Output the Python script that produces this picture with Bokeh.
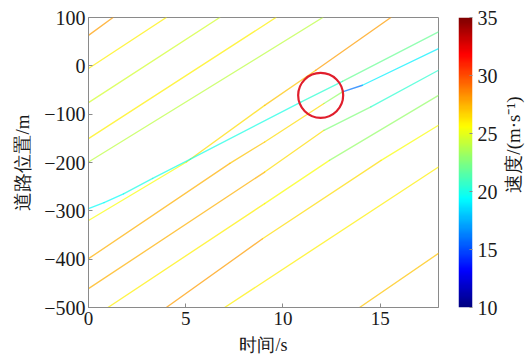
import numpy as np
from bokeh.plotting import figure
from bokeh.models import Range1d, ColumnDataSource, LinearColorMapper, FixedTicker
from bokeh.layouts import row, column
from bokeh.core.properties import value
from bokeh.embed import file_html
from bokeh.resources import INLINE

# ---------------- data ----------------
x_ticks = [0, 5, 10, 15]
x_tick_labels = ["0", "5", "10", "15"]
y_ticks = [-500, -400, -300, -200, -100, 0, 100]
y_tick_labels = ["−500", "−400", "−300", "−200", "−100", "0", "100"]
cbar_ticks = [10, 15, 20, 25, 30, 35]
cbar_tick_labels = ["10", "15", "20", "25", "30", "35"]
speed_low, speed_high = 10, 35
x_title = "时间/s"
y_title = "道路位置/m"
cbar_title = "速度/(m·s⁻¹)"

# trajectories: time (s), road position (m), speed on each segment (m/s)
L1_t = [0.0, 1.26];  L1_x = [63, 100];   L1_v = [28]
L2_t = [0.0, 4.0];   L2_x = [-5.6, 100]; L2_v = [26]
L3_t = [0.0, 6.75];  L3_x = [-76, 100];  L3_v = [24.5]
L4_t = [0.0, 9.64];  L4_x = [-150.6, 100]; L4_v = [26]
L5_t = [0.0, 12.05]; L5_x = [-199, 100]; L5_v = [24]
A_t = [0.0, 5.04, 9.06, 11.69, 15.55]
A_x = [-320, -199, -81.8, -9.2, 100]
A_v = [25.5, 26.5, 27, 28]
B_t = [0.0, 7.27, 9.06, 12.11, 13.06, 14.09, 18.0]
B_x = [-399, -201.8, -157.6, -78, -54, -40.2, 35.8]
B_v = [27.5, 27, 26.5, 23, 16, 19]
C_t = [0.0, 9.06, 12.11, 14.52, 18.0]
C_x = [-461, -219.8, -133.4, -85, -9.2]
C_v = [27.5, 26.5, 22.5, 20.5]
D_t = [1.0, 9.06, 12.39, 18.0]
D_x = [-500, -285, -195.6, -61]
D_v = [26, 25.5, 23]
E_t = [4.0, 8.95, 15.05, 18.0]
E_x = [-500, -357.8, -195.6, -123]
E_v = [28, 26.5, 25.5]
F_t = [7.0, 18.0];   F_x = [-500, -209.4]; F_v = [26]
G_t = [13.94, 18.0]; G_x = [-500, -388];   G_v = [27]
Cy_t = [0.0, 0.8, 1.8, 3.3, 5.24, 10.92, 13.06, 18.0]
Cy_x = [-295.6, -283, -265, -233, -193, -75, -32, 70.2]
Cy_v = [19.5, 19.5, 20, 20, 20, 20.5, 22]

event_t = [11.94]
event_x = [-61]

vehicles = [(L1_t, L1_x, L1_v), (L2_t, L2_x, L2_v), (L3_t, L3_x, L3_v),
            (L4_t, L4_x, L4_v), (L5_t, L5_x, L5_v), (F_t, F_x, F_v),
            (G_t, G_x, G_v), (E_t, E_x, E_v), (D_t, D_x, D_v),
            (C_t, C_x, C_v), (B_t, B_x, B_v), (A_t, A_x, A_v),
            (Cy_t, Cy_x, Cy_v)]

# ---------------- style ----------------
FONT = "Liberation Serif"
TXT = "#1a1a1a"
GRAY = "#8a8a8a"
W_MAIN = 440
H_MAIN = 332
H_TOTAL = 356


def jet_palette(n=256):
    cols = []
    for k in range(n):
        f = k / (n - 1)
        r = min(max(1.5 - abs(4 * f - 3), 0), 1)
        g = min(max(1.5 - abs(4 * f - 2), 0), 1)
        b = min(max(1.5 - abs(4 * f - 1), 0), 1)
        cols.append("#%02x%02x%02x" % (int(r * 255), int(g * 255), int(b * 255)))
    return cols


mapper = LinearColorMapper(palette=jet_palette(), low=speed_low, high=speed_high)

seg = dict(x0=[], y0=[], x1=[], y1=[], speed=[])
for t, x, v in vehicles:
    for i in range(len(t) - 1):
        seg["x0"].append(t[i]); seg["y0"].append(x[i])
        seg["x1"].append(t[i + 1]); seg["y1"].append(x[i + 1])
        seg["speed"].append(v[i])
src = ColumnDataSource(seg)

p = figure(width=W_MAIN, height=H_MAIN, x_range=Range1d(0, 18), y_range=Range1d(-500, 100),
           toolbar_location=None, output_backend="svg",
           min_border_left=88, min_border_right=2, min_border_top=17,
           min_border_bottom=H_MAIN - 307,
           background_fill_color="white", border_fill_color="white")
p.grid.visible = False
p.outline_line_color = GRAY
p.outline_line_width = 1

p.segment(x0="x0", y0="y0", x1="x1", y1="y1", source=src,
          line_color={"field": "speed", "transform": mapper},
          line_width=1.35, line_alpha=0.72, line_cap="round")

p.scatter(x=event_t, y=event_x, marker="circle", size=45, fill_color=None,
          line_color="#e01e2c", line_width=2.2)

for ax in (p.xaxis[0], p.yaxis[0]):
    ax.axis_line_color = GRAY
    ax.major_tick_line_color = GRAY
    ax.major_tick_in = 4
    ax.major_tick_out = 0
    ax.minor_tick_line_color = None
    ax.major_label_text_font = FONT
    ax.major_label_text_color = TXT
    ax.axis_label_text_font = FONT
    ax.axis_label_text_font_size = "19px"
    ax.axis_label_text_font_style = "normal"
    ax.axis_label_text_color = TXT

p.xaxis.ticker = FixedTicker(ticks=x_ticks)
p.xaxis.major_label_overrides = dict(zip(x_ticks, x_tick_labels))
p.xaxis.major_label_text_font_size = "19px"
p.xaxis.major_label_standoff = 4
p.yaxis.ticker = FixedTicker(ticks=y_ticks)
p.yaxis.major_label_overrides = dict(zip(y_ticks, y_tick_labels))
p.yaxis.major_label_text_font_size = "20px"
p.yaxis.major_label_standoff = 3
p.yaxis.axis_label = y_title
p.yaxis.axis_label_standoff = 8

# x-axis title strip below the main plot
xt = figure(width=W_MAIN, height=H_TOTAL - H_MAIN, x_range=Range1d(0, 18),
            y_range=Range1d(0, H_TOTAL - H_MAIN),
            x_axis_type=None, y_axis_type=None, toolbar_location=None, output_backend="svg",
            min_border_left=88, min_border_right=2, min_border_top=0, min_border_bottom=0,
            background_fill_color="white", border_fill_color="white")
xt.outline_line_color = None
xt.grid.visible = False
xt.text(x=[9], y=[H_TOTAL - 344], text=[x_title], text_align="center", text_baseline="middle",
        text_font=value(FONT), text_font_size="18px", text_color=TXT)

# ---------------- colour bar ----------------
cb = figure(width=60, height=H_TOTAL, x_range=Range1d(0, 1),
            y_range=Range1d(speed_low, speed_high), y_axis_location="right",
            toolbar_location=None, output_backend="svg",
            min_border_left=18, min_border_right=27, min_border_top=17,
            min_border_bottom=H_TOTAL - 307,
            background_fill_color="white", border_fill_color="white")
cb.grid.visible = False
cb.xaxis.visible = False
cb.outline_line_color = None
cb.image(image=[np.linspace(speed_low, speed_high, 256).reshape(256, 1)],
         x=0, y=speed_low, dw=1, dh=speed_high - speed_low, color_mapper=mapper)
ya = cb.yaxis[0]
ya.ticker = FixedTicker(ticks=cbar_ticks)
ya.major_label_overrides = dict(zip(cbar_ticks, cbar_tick_labels))
ya.axis_line_color = None
ya.major_tick_line_color = GRAY
ya.major_tick_in = 3
ya.major_tick_out = 0
ya.minor_tick_line_color = None
ya.major_label_text_font = FONT
ya.major_label_text_font_size = "20px"
ya.major_label_text_color = TXT
ya.major_label_standoff = 5

# colour-bar title strip
tf = figure(width=32, height=H_TOTAL, x_range=Range1d(0, 32), y_range=Range1d(0, H_TOTAL),
            x_axis_type=None, y_axis_type=None, toolbar_location=None, output_backend="svg",
            min_border_left=0, min_border_right=0, min_border_top=0, min_border_bottom=0,
            background_fill_color="white", border_fill_color="white")
tf.outline_line_color = None
tf.grid.visible = False
tf.text(x=[13], y=[H_TOTAL - 156], text=[cbar_title], angle=np.pi / 2,
        text_align="center", text_baseline="middle",
        text_font=value(FONT), text_font_size="19px", text_color=TXT)

layout = row(column(p, xt), cb, tf)
open("out.html", "w").write(file_html(layout, INLINE))
